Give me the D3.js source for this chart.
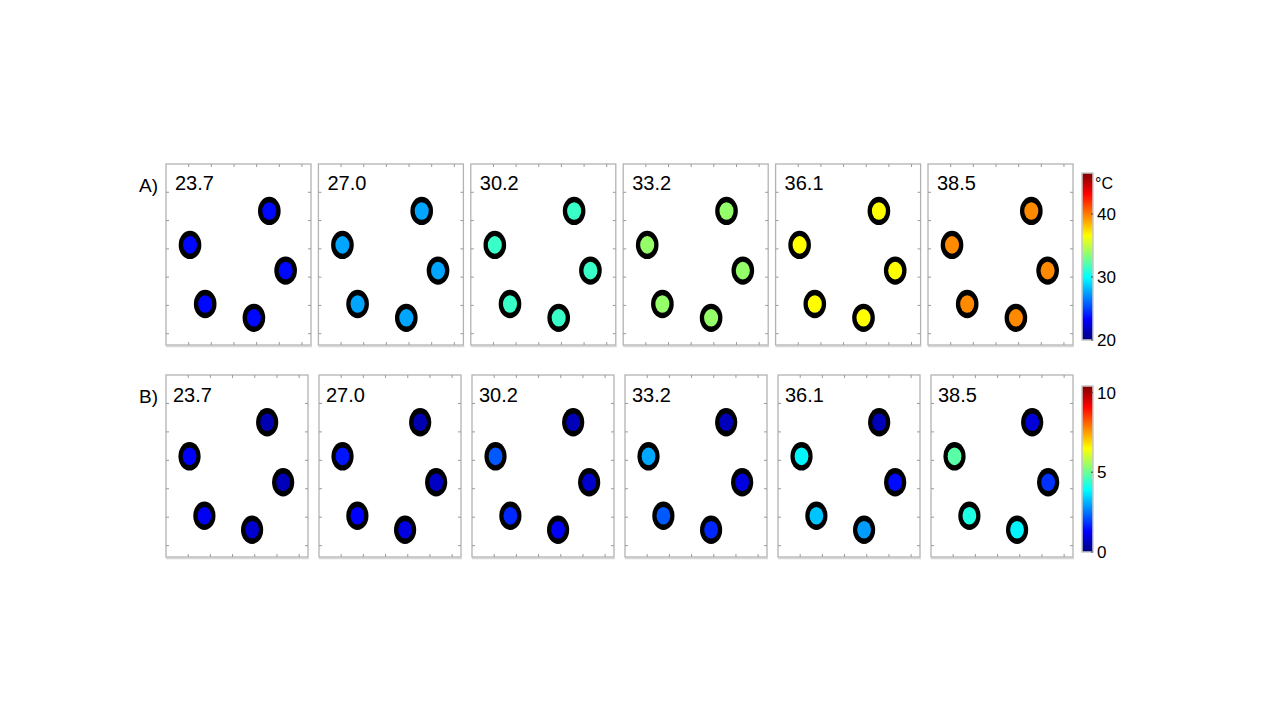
<!DOCTYPE html>
<html>
<head>
<meta charset="utf-8">
<script src="https://cdn.jsdelivr.net/npm/d3@7"></script>
<style>
  body { margin: 0; background: #fff; }
  text { font-family: "Liberation Sans", Arial, sans-serif; fill: #000; }
</style>
</head>
<body>
<svg id="chart" width="1280" height="720"></svg>
<script>
// panel titles (set temperature)
const setTemps = ['23.7', '27.0', '30.2', '33.2', '36.1', '38.5'];

// well centres in panel units (x to the right, y downward), same for every panel
const wellX = [45.6, 10.6, 52.8, 17.3, 38.8];
const wellY = [16.6, 28.6, 37.7, 49.5, 54.4];
const wellR = 5.0;
const wellInnerR = 3.1;

// row A: measured well temperature per panel (uniform over the 5 wells)
const wellTempA = [23.5, 27.6, 31.4, 33.8, 36.6, 39.6];

// row B: value per well, per panel (order as wellX / wellY)
const wellValueB = [
  [0.5, 1.3, 0.6, 1.2, 0.8],
  [0.5, 1.5, 0.7, 1.3, 1.0],
  [0.6, 2.2, 0.8, 1.7, 1.2],
  [0.6, 3.0, 1.0, 2.2, 1.7],
  [0.6, 3.8, 1.4, 3.3, 2.9],
  [0.9, 4.8, 1.8, 4.2, 3.8]
];

const tempTicks = [20, 30, 40];
const valueTicks = [0, 5, 10];
const axisTicks = [10, 20, 30, 40, 50, 60];

// jet colormap
const jetStops = [0, 0.125, 0.375, 0.625, 0.875, 1];
const jetColors = ['#00007f', '#0000ff', '#00ffff', '#ffff00', '#ff0000', '#7f0000'];
function jet(domain) {
  return d3.scaleLinear()
    .domain(jetStops.map(t => domain[0] + t * (domain[1] - domain[0])))
    .range(jetColors)
    .clamp(true);
}

const rows = [
  {
    label: 'A)', labelY: 192, top: 164, height: 181, left: 166, step: 152.4, width: 145,
    values: wellTempA.map(v => wellX.map(() => v)),
    domain: [20, 46.5], ticks: tempTicks, unit: '°C',
    bar: { x: 1082, top: 173, bottom: 340 }, titleDx: 9, titleDy: 26
  },
  {
    label: 'B)', labelY: 403, top: 375, height: 182, left: 166, step: 153, width: 142,
    values: wellValueB,
    domain: [0, 10.4], ticks: valueTicks, unit: null,
    bar: { x: 1082, top: 386, bottom: 552 }, titleDx: 7, titleDy: 27
  }
];

const svg = d3.select('#chart');
const defs = svg.append('defs');

rows.forEach((row, r) => {
  const color = jet(row.domain);

  svg.append('text')
    .attr('x', 139).attr('y', row.labelY)
    .attr('font-size', 19)
    .text(row.label);

  setTemps.forEach((title, i) => {
    const x0 = row.left + i * row.step;
    const x = d3.scaleLinear().domain([0, 64]).range([x0, x0 + row.width]);
    const y = d3.scaleLinear().domain([0, 64]).range([row.top, row.top + row.height]);
    const g = svg.append('g');

    // frame with soft shadow along the bottom
    g.append('line')
      .attr('x1', x(0)).attr('x2', x(64) + 1)
      .attr('y1', y(64) + 1.5).attr('y2', y(64) + 1.5)
      .attr('stroke', '#d6d6d6').attr('stroke-width', 1.5);
    g.append('rect')
      .attr('x', x(0)).attr('y', y(0))
      .attr('width', x(64) - x(0)).attr('height', y(64) - y(0))
      .attr('fill', '#fff').attr('stroke', '#b3b3b3').attr('stroke-width', 1.3);

    // inward ticks on all four sides
    const tk = 3;
    axisTicks.forEach(t => {
      [[x(t), y(0), x(t), y(0) + tk], [x(t), y(64), x(t), y(64) - tk],
       [x(0), y(t), x(0) + tk, y(t)], [x(64), y(t), x(64) - tk, y(t)]].forEach(l => {
        g.append('line')
          .attr('x1', l[0]).attr('y1', l[1]).attr('x2', l[2]).attr('y2', l[3])
          .attr('stroke', '#9a9a9a').attr('stroke-width', 1);
      });
    });

    g.append('text')
      .attr('x', x0 + row.titleDx).attr('y', row.top + row.titleDy)
      .attr('font-size', 20)
      .text(title);

    const rx = (rad) => x(rad) - x(0);
    const ry = (rad) => y(rad) - y(0);

    const wells = g.selectAll('g.well')
      .data(wellX.map((wx, k) => ({ x: wx, y: wellY[k], v: row.values[i][k] })))
      .join('g').attr('class', 'well');
    wells.append('ellipse')
      .attr('cx', d => x(d.x)).attr('cy', d => y(d.y))
      .attr('rx', rx(wellR)).attr('ry', ry(wellR))
      .attr('fill', '#000');
    wells.append('ellipse')
      .attr('cx', d => x(d.x)).attr('cy', d => y(d.y))
      .attr('rx', rx(wellInnerR)).attr('ry', ry(wellInnerR))
      .attr('fill', d => color(d.v));
  });

  // colorbar
  const gradId = 'jet' + r;
  const grad = defs.append('linearGradient')
    .attr('id', gradId).attr('x1', 0).attr('x2', 0).attr('y1', 1).attr('y2', 0);
  jetStops.forEach((t, k) => {
    grad.append('stop').attr('offset', t).attr('stop-color', jetColors[k]);
  });
  const b = row.bar;
  const cy = d3.scaleLinear().domain(row.domain).range([b.bottom, b.top]);
  svg.append('rect')
    .attr('x', b.x).attr('y', b.top)
    .attr('width', 11).attr('height', b.bottom - b.top)
    .attr('fill', `url(#${gradId})`)
    .attr('stroke', '#c8c8c8').attr('stroke-width', 1.5);
  row.ticks.forEach(t => {
    svg.append('line')
      .attr('x1', b.x + 11).attr('x2', b.x + 9)
      .attr('y1', cy(t)).attr('y2', cy(t))
      .attr('stroke', '#444').attr('stroke-width', 1);
    svg.append('text')
      .attr('x', b.x + 15).attr('y', cy(t))
      .attr('dy', '0.36em')
      .attr('font-size', 17)
      .text(t);
  });
  if (row.unit) {
    svg.append('text')
      .attr('x', b.x + 13).attr('y', b.top + 10)
      .attr('dy', '0.36em')
      .attr('font-size', 16)
      .text(row.unit);
  }
});
</script>
</body>
</html>
